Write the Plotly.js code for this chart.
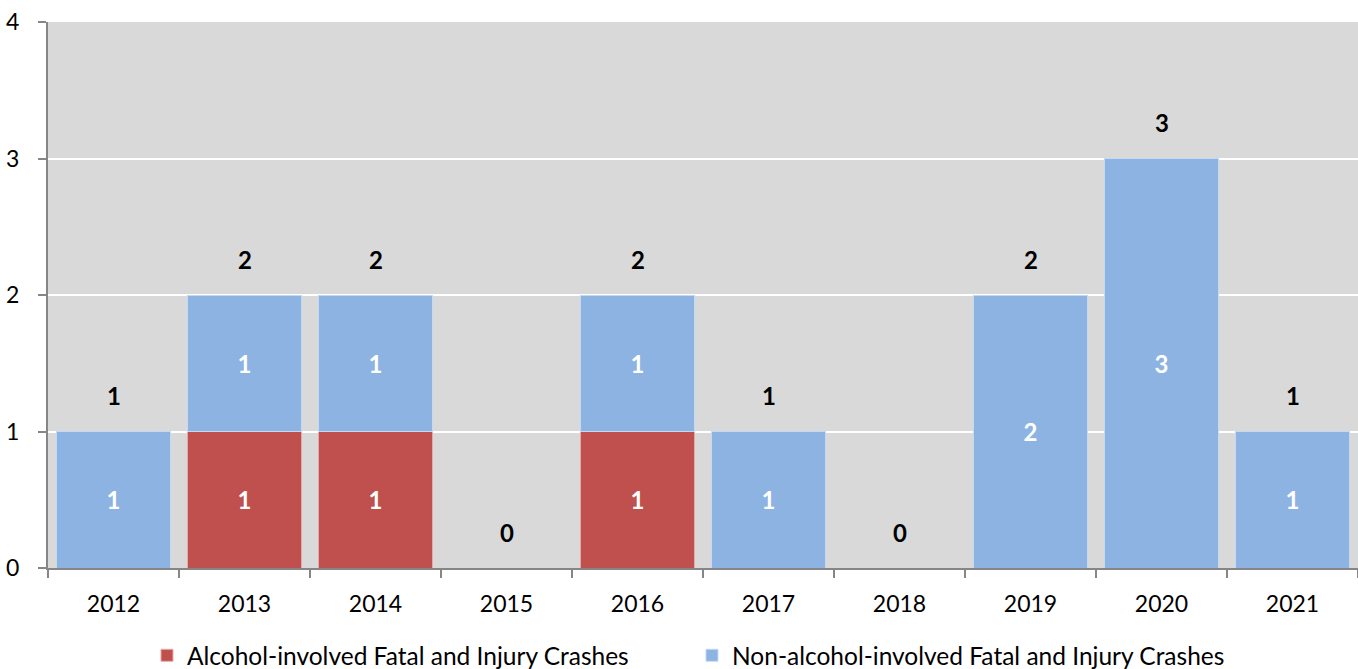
<!DOCTYPE html>
<html>
<head>
<meta charset="utf-8">
<script src="https://cdn.plot.ly/plotly-3.0.1.min.js"></script>
<style>html,body{margin:0;padding:0;background:#fff;}#chart{width:1358px;height:669px;}</style>
</head>
<body>
<div id="chart"></div>
<script>
var years = ["2012","2013","2014","2015","2016","2017","2018","2019","2020","2021"];
var alcohol = [0,1,1,0,1,0,0,0,0,0];
var nonAlcohol = [1,1,1,0,1,1,0,2,3,1];
var seriesNames = ["Alcohol-involved Fatal and Injury Crashes","Non-alcohol-involved Fatal and Injury Crashes"];

var totals = years.map(function(_, i){ return alcohol[i] + nonAlcohol[i]; });
var FONT = "Lato, 'Open Sans', sans-serif";

function labels(arr){ return arr.map(function(v){ return v > 0 ? String(v) : ""; }); }

var traces = [
  {
    type: "bar", name: seriesNames[0], x: years, y: alcohol,
    marker: {color: "#c0504d", line: {color: "#e6a9a7", width: 1}},
    text: labels(alcohol), textposition: "inside", insidetextanchor: "middle",
    textfont: {family: FONT, size: 24, color: "#ffffff", weight: "bold"},
    hoverinfo: "skip"
  },
  {
    type: "bar", name: seriesNames[1], x: years, y: nonAlcohol,
    marker: {color: "#8db3e2", line: {color: "#c5d9f1", width: 1}},
    text: labels(nonAlcohol), textposition: "inside", insidetextanchor: "middle",
    textfont: {family: FONT, size: 24, color: "#ffffff", weight: "bold"},
    hoverinfo: "skip"
  }
];

var annotations = years.map(function(y, i){
  return {
    x: i, y: totals[i], xref: "x", yref: "y",
    text: "<b>" + totals[i] + "</b>", showarrow: false,
    yanchor: "middle", yshift: 36,
    font: {family: FONT, size: 24, color: "#000000"}
  };
});

var layout = {
  width: 1358, height: 669,
  margin: {l: 48, r: 0, t: 22, b: 101, pad: 0, autoexpand: false},
  paper_bgcolor: "#ffffff", plot_bgcolor: "#d9d9d9",
  barmode: "stack", bargap: 0.13,
  font: {family: FONT, size: 23, color: "#000000"},
  showlegend: true,
  legend: {
    orientation: "h", x: 0.4916, xanchor: "center", y: -0.160, yanchor: "middle",
    font: {family: FONT, size: 24.5, color: "#000000"},
    traceorder: "normal", entrywidth: 500
  },
  xaxis: {
    type: "category", range: [-0.5, 9.5], autorange: false, automargin: false,
    tickson: "boundaries", ticks: "outside", ticklen: 8, tickwidth: 2,
    tickcolor: "#868686", showline: true, linecolor: "#868686", linewidth: 2,
    showgrid: false, tickangle: 0, ticklabelstandoff: 14,
    tickfont: {family: FONT, size: 23, color: "#000"}, fixedrange: true
  },
  yaxis: {
    range: [0, 4], autorange: false, automargin: false, dtick: 1, ticks: "outside", ticklen: 8, tickwidth: 2, tickcolor: "#868686",
    showline: true, linecolor: "#868686", linewidth: 2, showgrid: true, gridcolor: "#ffffff", gridwidth: 2,
    zeroline: false, ticklabelstandoff: 14, tickfont: {family: FONT, size: 23, color: "#000"}, fixedrange: true
  },
  annotations: annotations
};

Plotly.newPlot("chart", traces, layout, {displayModeBar: false, staticPlot: true});
</script>
</body>
</html>
